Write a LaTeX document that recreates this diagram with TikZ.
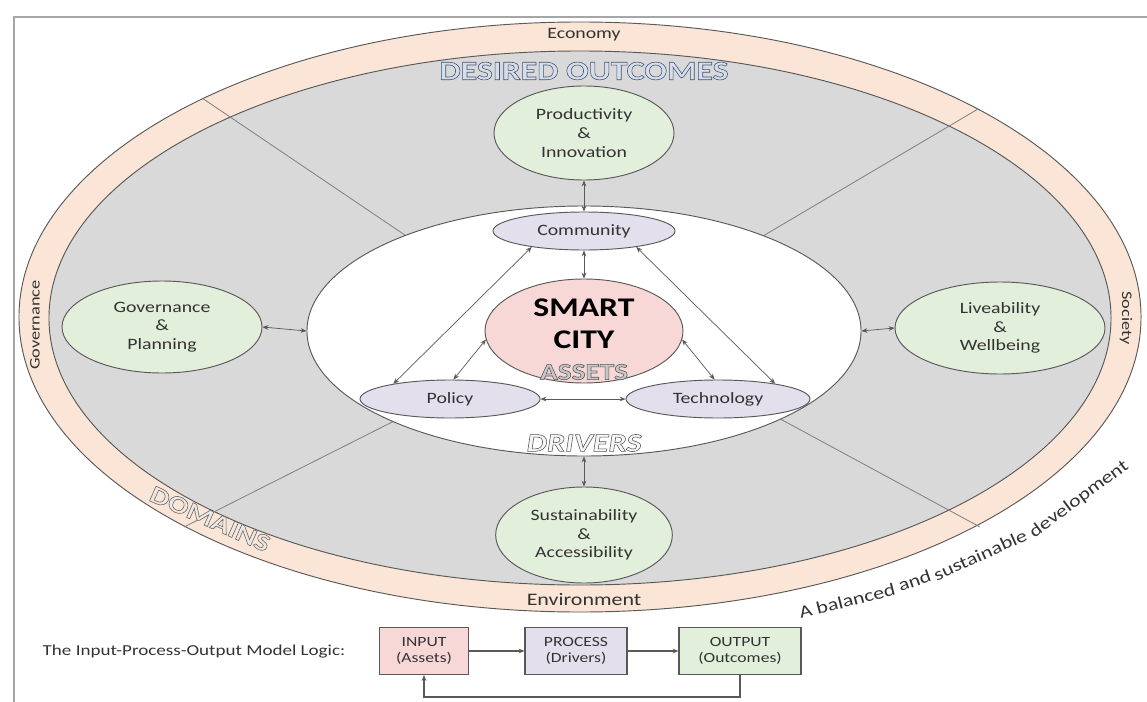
\documentclass[tikz,border=0pt]{standalone}
\usepackage{fontspec}
\setmainfont{Carlito}[FakeStretch=1.25]
\usetikzlibrary{shapes.geometric,arrows.meta}
\definecolor{peach}{HTML}{FBE5D6}
\definecolor{greyfill}{HTML}{D9D9D9}
\definecolor{greenfill}{HTML}{E2EFDA}
\definecolor{lavfill}{HTML}{E4DFEC}
\definecolor{pinkfill}{HTML}{F8D7D7}
\definecolor{edge}{HTML}{595959}
\definecolor{txt}{HTML}{333333}
\definecolor{framegrey}{HTML}{A6A6A6}
\newcommand\outlinetxt[3]{\special{pdf:literal direct #1 rg #2 RG 2 Tr 0.5 w}#3\special{pdf:literal direct 0 Tr}}
\tikzset{
  lab/.style={text=txt, font=\fontsize{13.5}{16}\selectfont, align=center},
  greenell/.style={ellipse, draw=edge, fill=greenfill, line width=0.8pt, inner sep=0pt, lab},
  purpell/.style={ellipse, draw=edge, fill=lavfill, line width=0.8pt, inner sep=0pt, lab},
  arr/.style={{Stealth[length=5pt,width=4pt]}-{Stealth[length=5pt,width=4pt]}, draw=edge, line width=0.6pt},
  sector/.style={draw=gray, line width=0.7pt},
  ipobox/.style={rectangle, draw=edge, line width=0.9pt, inner sep=0pt, text=txt, align=center, font=\fontsize{12}{14}\selectfont, minimum height=1.41cm},
  onearr/.style={-{Stealth[length=5pt,width=4pt]}, draw=edge, line width=0.9pt},
  bandtxt/.style={text=txt, font=\fontsize{13.5}{16}\selectfont, inner sep=0pt},
  curvetxt/.style={text=txt, font=\fontsize{15}{18}\selectfont, inner sep=0pt, anchor=base},
  head/.style={inner sep=0pt, font=\fontsize{23}{26}\selectfont\bfseries},
}
\begin{document}
\begin{tikzpicture}[x=0.03cm, y=-0.03cm]
\useasboundingbox (0,0) rectangle (1147,702);
% frame
\draw[framegrey, line width=1.5pt] (14,702) -- (14,17) -- (1147,17);
% outer band and grey region
\draw[edge, fill=peach, line width=0.8pt] (580,317) ellipse [x radius=16.83cm, y radius=8.85cm];
\draw[edge, fill=greyfill, line width=0.8pt] (580,318) ellipse [x radius=15.93cm, y radius=8.01cm];
% sector lines
\draw[sector] (430,252) -- (202,98);
\draw[sector] (741,249) -- (978,109);
\draw[sector] (760,408) -- (980,527);
\draw[sector] (420,408) -- (184,527);
% white drivers ellipse
\node[ellipse, draw=edge, fill=white, line width=0.8pt, inner sep=0pt, minimum width=16.62cm, minimum height=7.5cm] (W) at (584,331) {};
% outcome ellipses
\node[greenell, minimum width=5.4cm, minimum height=2.82cm] (prod) at (584,133) {Productivity\\\&\\Innovation};
\node[greenell, minimum width=5.3cm, minimum height=2.88cm] (sust) at (584,535) {Sustainability\\\&\\Accessibility};
\node[greenell, minimum width=6cm, minimum height=2.76cm] (gov) at (162,327) {Governance\\\&\\Planning};
\node[greenell, minimum width=6.3cm, minimum height=2.76cm] (liv) at (1000,328) {Liveability\\\&\\Wellbeing};
% drivers
\node[purpell, minimum width=5.46cm, minimum height=1.14cm] (comm) at (584,231) {Community};
\node[purpell, minimum width=5.4cm, minimum height=1.14cm] (pol) at (450,399) {Policy};
\node[purpell, minimum width=5.52cm, minimum height=1.14cm] (tech) at (718,399) {Technology};
% smart city
\node[ellipse, draw=edge, fill=pinkfill, line width=0.8pt, inner sep=0pt, minimum width=5.94cm, minimum height=3.12cm] (pink) at (584,331) {};
\node[text=black, font=\fontsize{23}{27}\selectfont\bfseries, align=center, inner sep=0pt] (sc) at (584,324) {SMART\\CITY};
% headings
\node[head] (desired) at (584,71) {\outlinetxt{0.84 0.87 0.92}{0.27 0.33 0.45}{DESIRED OUTCOMES}};
\node[head, font=\fontsize{20}{24}\selectfont\bfseries] (assets) at (584,372) {\outlinetxt{0.78 0.78 0.78}{0.35 0.35 0.35}{ASSETS}};
\node[head, font=\fontsize{22}{26}\selectfont\bfseries\itshape] (drivers) at (584,443) {\outlinetxt{0.97 0.97 0.97}{0.35 0.35 0.35}{DRIVERS}};
\node[head, font=\fontsize{21}{25}\selectfont\bfseries, rotate=-24] (domains) at (210,519) {\outlinetxt{0.93 0.91 0.89}{0.4 0.4 0.4}{DOMAINS}};
% band labels
\node[bandtxt] (eco) at (584,35) {Economy};
\node[bandtxt, font=\fontsize{15}{18}\selectfont] (env) at (584,600) {Environment};
\node[bandtxt, font=\fontsize{12.5}{15}\selectfont, rotate=90] (govb) at (35,325) {Governance};
\node[bandtxt, font=\fontsize{12.5}{15}\selectfont, rotate=-90] (soc) at (1126,318) {Society};
% curved caption, in pieces following the outer ellipse
\node[curvetxt, rotate=14.3] (bal1) at (848.6,606.7) {A balanced};
\node[curvetxt, rotate=18.9] (bal2) at (916.5,586.5) {and};
\node[curvetxt, rotate=24.4] (bal3) at (982.6,560.4) {sustainable};
\node[curvetxt, rotate=36.5] (bal4) at (1081.9,503.1) {development};
% connectors
\draw[arr] (prod.south) -- (comm.north);
\draw[arr] (comm.south) -- (pink.north);
\draw[arr] (gov.east) -- (W.west);
\draw[arr] (liv.west) -- (W.east);
\draw[arr] (W.south) -- (sust.north);
\draw[arr] (pol.east) -- (tech.west);
\draw[arr] (comm.197) -- (pol.165);
\draw[arr] (comm.343) -- (tech.15);
\draw[arr] (pink.185) -- (pol.80);
\draw[arr] (pink.355) -- (tech.100);
% input-process-output
\node[text=txt, font=\fontsize{13}{15}\selectfont, inner sep=0pt] (ipolab) at (194,652) {The Input-Process-Output Model Logic:};
\node[ipobox, fill=pinkfill, minimum width=2.67cm] (in) at (424,651) {INPUT\\(Assets)};
\node[ipobox, fill=lavfill, minimum width=3.06cm] (proc) at (576,651) {PROCESS\\(Drivers)};
\node[ipobox, fill=greenfill, minimum width=3.66cm] (out) at (740,651) {OUTPUT\\(Outcomes)};
\coordinate (fby) at (0,697);
\draw[onearr] (in.east) -- (proc.west);
\draw[onearr] (proc.east) -- (out.west);
\draw[onearr] (out.south) -- (out.south |- fby) -| (in.south);
\end{tikzpicture}
\end{document}
